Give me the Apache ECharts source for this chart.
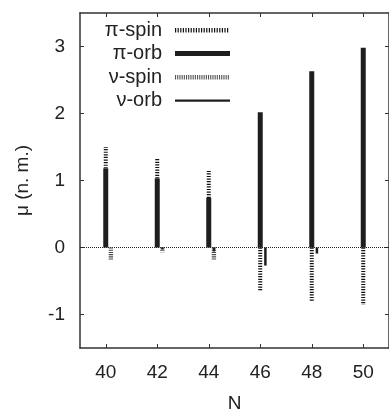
<!DOCTYPE html>
<html><head><meta charset="utf-8">
<script src="https://cdn.jsdelivr.net/npm/echarts@6/dist/echarts.min.js"></script>
<style>html,body{margin:0;padding:0;background:#fff}#c{width:389px;height:418px}</style>
</head><body><div id="c"></div>
<script>
// ---- data ----
const N = [40, 42, 44, 46, 48, 50];
const piSpin = [0.32, 0.29, 0.40, -0.66, -0.80, -0.86];
const piOrb  = [1.18, 1.03, 0.74, 2.02, 2.63, 2.98];
const nuSpin = [-0.19, -0.07, -0.18, 0.0, 0.0, 0.0];
const nuOrb  = [0.0, -0.03, -0.06, -0.27, -0.09, 0.0];
const seriesNames = ['π-spin', 'π-orb', 'ν-spin', 'ν-orb'];
const xTicks = [40, 42, 44, 46, 48, 50];
const yTicks = [-1, 0, 1, 2, 3];
const xName = 'N';
const yName = 'μ (n. m.)';

// ---- style ----
const FONT = 'Liberation Sans';
const NU_SHIFT = 0.2;
const DARK = '#1e1e1e';
function stripes(w, h, y0, sh, period, sw) {
  let p = 'path://M0,0M' + w + ',' + h;
  for (let x = 0; x + sw <= w + 0.01; x += period) {
    p += 'M' + x.toFixed(2) + ',' + y0 + 'h' + sw + 'v' + sh + 'h-' + sw + 'z';
  }
  return p;
}
const ICON_W = 55, ICON_H = 6;

const chart = echarts.init(document.getElementById('c'), null, {renderer: 'canvas'});

function rectBar(api, x, base, top, w, color) {
  const p0 = api.coord([x, base]), p1 = api.coord([x, top]);
  return {type: 'rect', shape: {x: p0[0] - w / 2, y: Math.min(p0[1], p1[1]), width: w, height: Math.abs(p1[1] - p0[1])}, style: {fill: color}};
}
function hatchBar(api, x, base, top, w, color, dash) {
  const p0 = api.coord([x, base]), p1 = api.coord([x, top]);
  return {type: 'line', shape: {x1: p0[0], y1: p0[1], x2: p1[0], y2: p1[1]}, style: {stroke: color, lineWidth: w, lineDash: dash, lineCap: 'butt'}};
}

const axisLineStyle = {color: '#333', width: 1.5};
const option = {
  animation: false,
  textStyle: {fontFamily: FONT},
  grid: {left: 80, top: 13, right: -1, bottom: 61, containLabel: false},
  legend: {
    orient: 'vertical', align: 'right', right: 154, top: 15, itemGap: 3.5,
    itemWidth: ICON_W, itemHeight: ICON_H, symbolKeepAspect: false, selectedMode: false,
    textStyle: {fontFamily: FONT, fontSize: 20, color: '#222', padding: [0, 8, 0, 0]},
    data: [
      {name: seriesNames[0], icon: stripes(ICON_W, ICON_H, 1, 4.4, 2.6, 1.2), itemStyle: {color: '#111'}},
      {name: seriesNames[1], icon: 'path://M0,0M' + ICON_W + ',' + ICON_H + 'M0,0.5h' + ICON_W + 'v5h-' + ICON_W + 'z', itemStyle: {color: DARK}},
      {name: seriesNames[2], icon: stripes(ICON_W, ICON_H, 1, 4.4, 2.2, 1.1), itemStyle: {color: '#555'}},
      {name: seriesNames[3], icon: 'path://M0,0M' + ICON_W + ',' + ICON_H + 'M0,2h' + ICON_W + 'v2.2h-' + ICON_W + 'z', itemStyle: {color: DARK}}
    ]
  },
  xAxis: [{
    type: 'value', position: 'bottom', min: 39, max: 51,
    name: xName, nameLocation: 'middle', nameGap: 46,
    nameTextStyle: {fontFamily: FONT, fontSize: 19, color: '#222'},
    axisLine: {show: true, onZero: false, lineStyle: axisLineStyle},
    axisTick: {show: true, inside: true, length: 4, customValues: xTicks, lineStyle: {color: '#333', width: 1}},
    axisLabel: {show: true, customValues: xTicks, margin: 15, fontFamily: FONT, fontSize: 19, color: '#222'},
    splitLine: {show: false}
  }, {
    type: 'value', position: 'top', min: 39, max: 51,
    axisLine: {show: true, onZero: false, lineStyle: axisLineStyle},
    axisTick: {show: true, inside: true, length: 4, customValues: xTicks, lineStyle: {color: '#333', width: 1}},
    axisLabel: {show: false}, splitLine: {show: false}
  }],
  yAxis: [{
    type: 'value', position: 'left', min: -1.5, max: 3.5,
    name: yName, nameLocation: 'middle', nameGap: 48, nameRotate: 90,
    nameTextStyle: {fontFamily: FONT, fontSize: 19, color: '#222'},
    axisLine: {show: true, onZero: false, lineStyle: axisLineStyle},
    axisTick: {show: true, inside: true, length: 4, customValues: yTicks, lineStyle: {color: '#333', width: 1}},
    axisLabel: {show: true, customValues: yTicks, margin: 15, fontFamily: FONT, fontSize: 19, color: '#222',
      formatter: v => String(v)},
    splitLine: {show: false}
  }, {
    type: 'value', position: 'right', min: -1.5, max: 3.5,
    axisLine: {show: true, onZero: false, lineStyle: axisLineStyle},
    axisTick: {show: true, inside: true, length: 4, customValues: yTicks, lineStyle: {color: '#333', width: 1}},
    axisLabel: {show: false}, splitLine: {show: false}
  }],
  series: [
    {
      name: seriesNames[0], type: 'custom', xAxisIndex: 0, yAxisIndex: 0, z: 3,
      itemStyle: {color: '#111'},
      data: N.map((n, i) => [n, piSpin[i], piOrb[i]]),
      renderItem: (params, api) => {
        const s = api.value(1), o = api.value(2);
        const base = s > 0 ? o : 0;
        return hatchBar(api, api.value(0), base, base + s, 4, '#111', [1.2, 1.4]);
      }
    },
    {
      name: seriesNames[1], type: 'custom', xAxisIndex: 0, yAxisIndex: 0, z: 4,
      itemStyle: {color: DARK},
      data: N.map((n, i) => [n, piOrb[i]]),
      renderItem: (params, api) => rectBar(api, api.value(0), 0, api.value(1), 5, DARK),
      markLine: {
        silent: true, symbol: 'none', label: {show: false}, z: 2,
        lineStyle: {type: 'dotted', color: '#222', width: 1},
        data: [{yAxis: 0}]
      }
    },
    {
      name: seriesNames[2], type: 'custom', xAxisIndex: 0, yAxisIndex: 0, z: 3,
      itemStyle: {color: '#555'},
      data: N.map((n, i) => [n, nuSpin[i]]),
      renderItem: (params, api) => hatchBar(api, api.value(0) + NU_SHIFT, 0, api.value(1), 4.4, '#4a4a4a', [1.1, 1.1])
    },
    {
      name: seriesNames[3], type: 'custom', xAxisIndex: 0, yAxisIndex: 0, z: 5,
      itemStyle: {color: DARK},
      data: N.map((n, i) => [n, nuOrb[i]]),
      renderItem: (params, api) => rectBar(api, api.value(0) + NU_SHIFT, 0, api.value(1), 2.5, DARK)
    }
  ]
};
chart.setOption(option);
</script>
</body></html>
